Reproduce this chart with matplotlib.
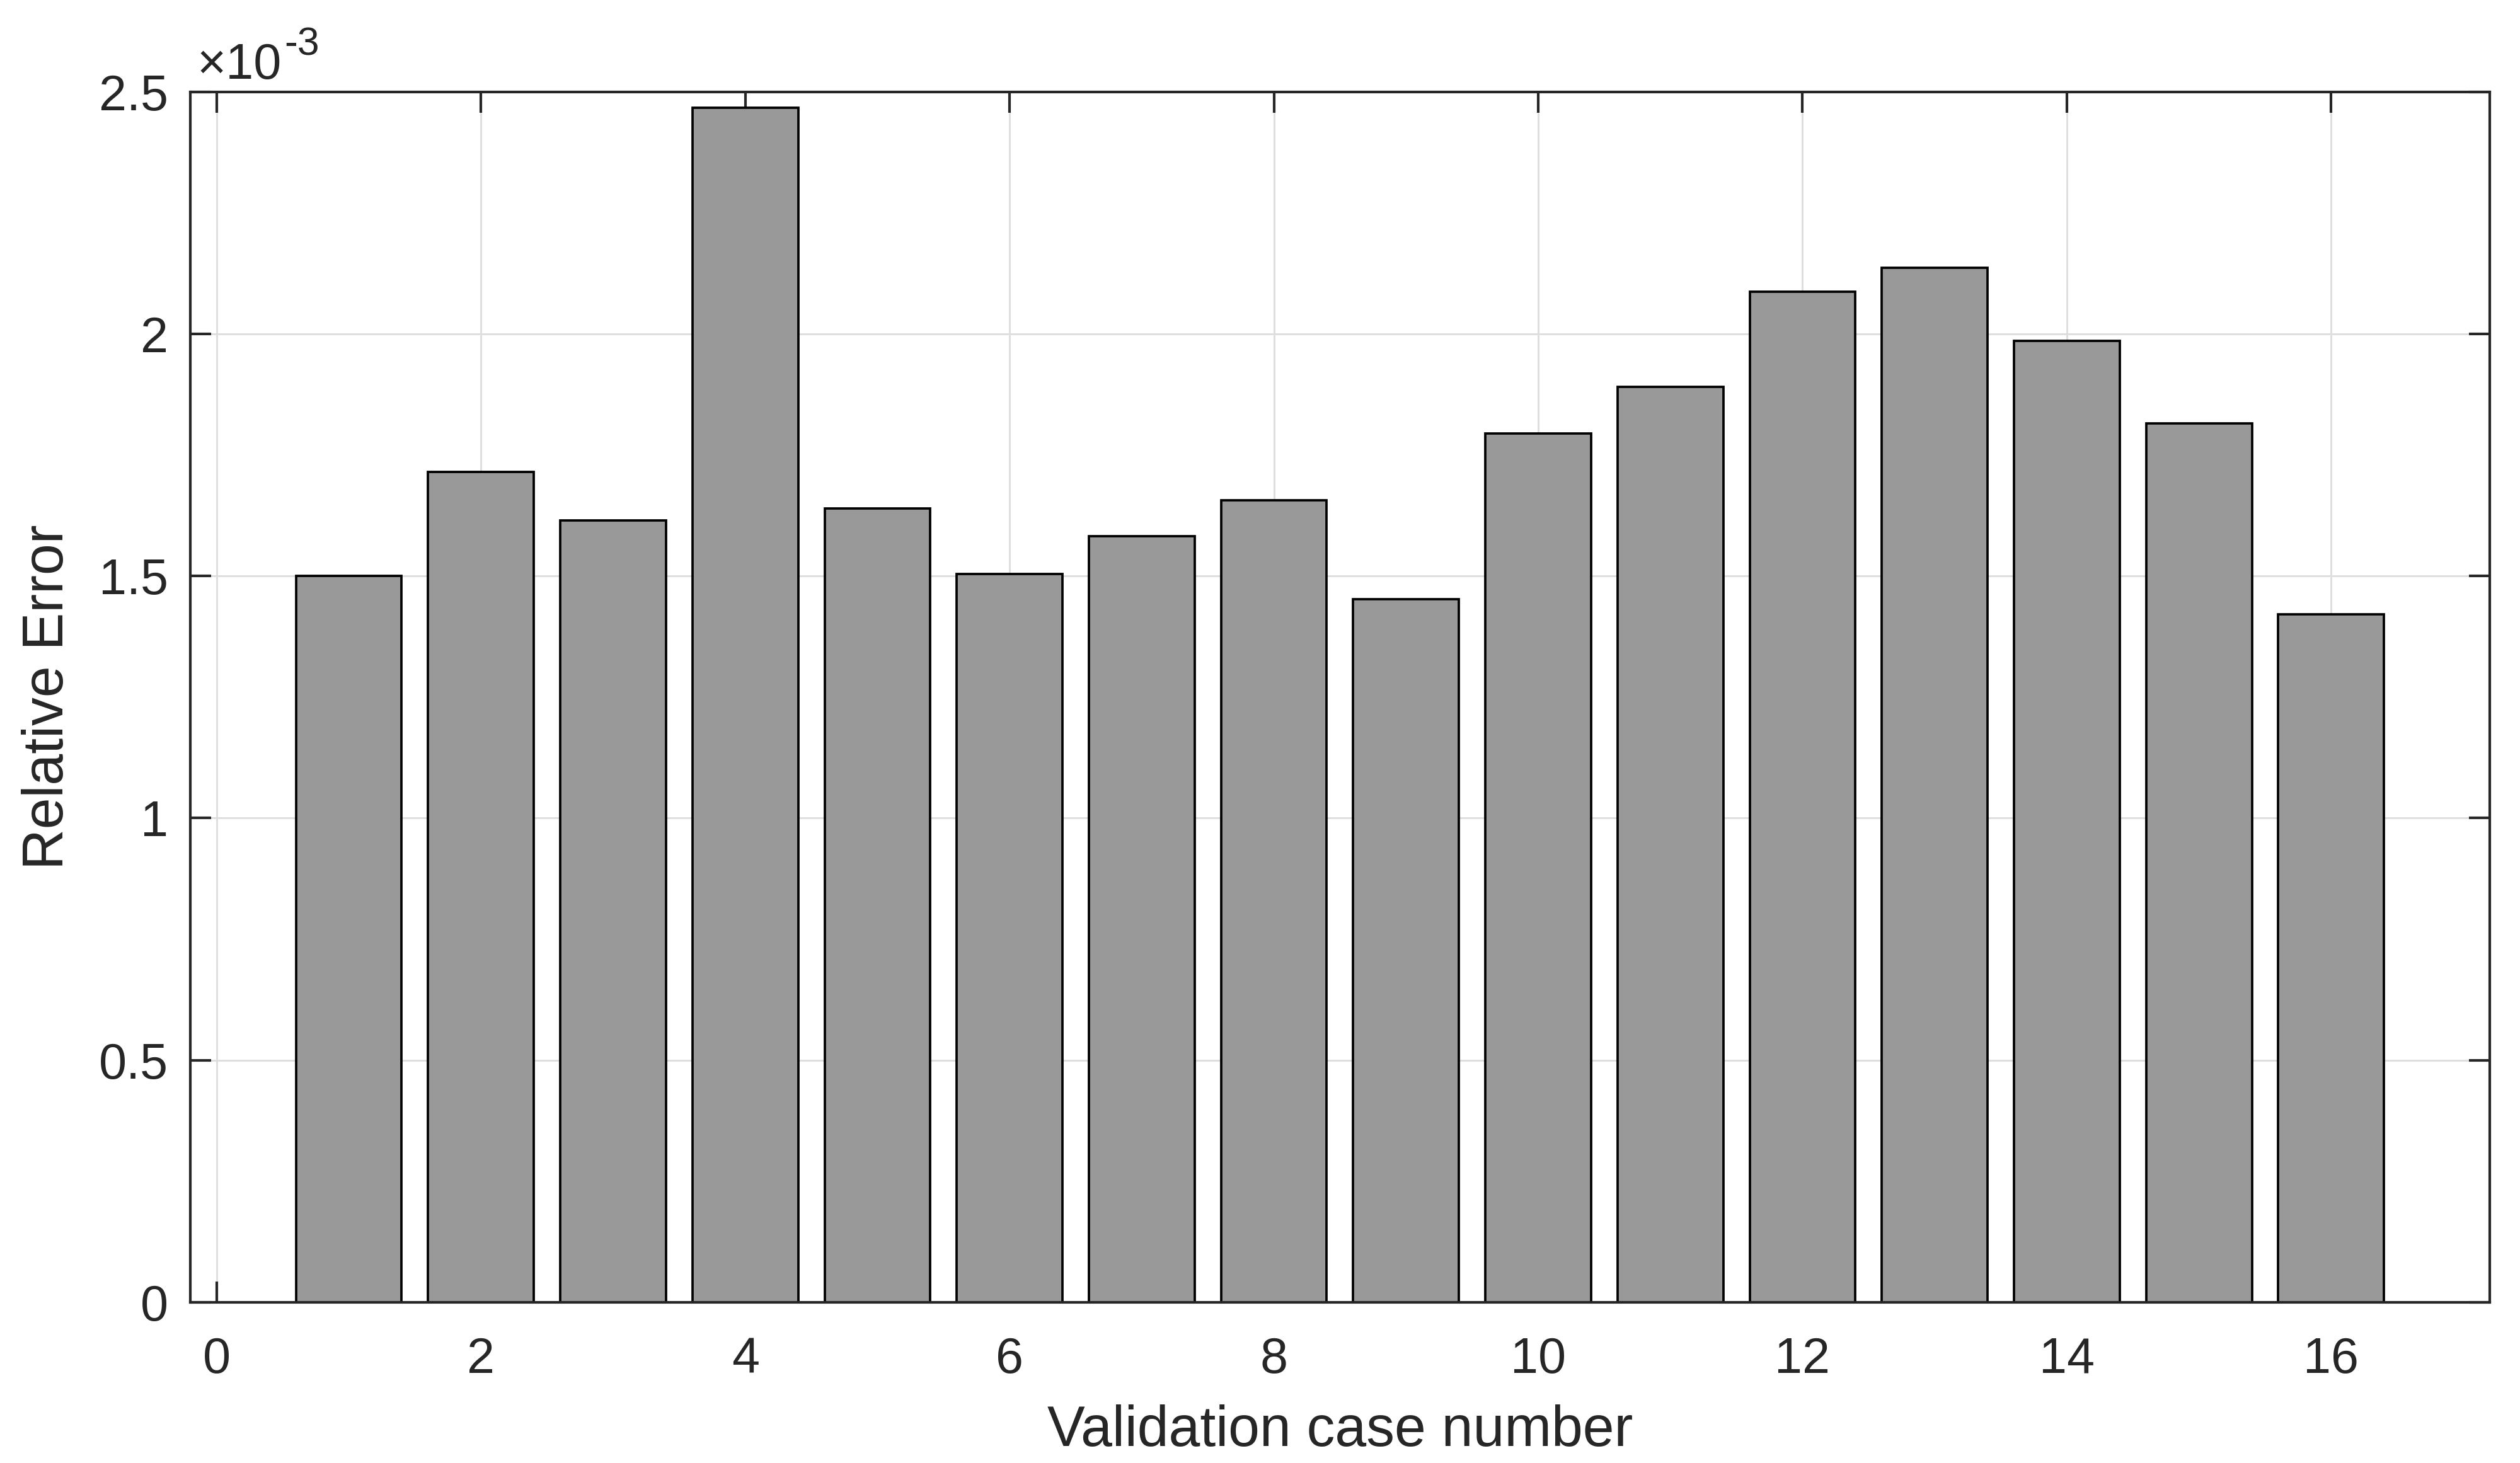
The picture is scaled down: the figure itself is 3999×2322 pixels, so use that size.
import numpy as np
import matplotlib
matplotlib.use('Agg')
import matplotlib.pyplot as plt
from matplotlib.ticker import FuncFormatter

plt.rcParams['font.family'] = ['Liberation Sans', 'DejaVu Sans']

# validation cases and their relative errors
cases = np.arange(1, 17)
rel_err = np.array([1.500, 1.715, 1.615, 2.468, 1.640, 1.505, 1.582, 1.657,
                    1.452, 1.795, 1.891, 2.088, 2.137, 1.986, 1.816, 1.421]) * 1e-3

xticks = [0, 2, 4, 6, 8, 10, 12, 14, 16]
yticks = [0, 0.5e-3, 1.0e-3, 1.5e-3, 2.0e-3, 2.5e-3]

axc = '#262626'
fig = plt.figure(figsize=(3999/300, 2322/300), dpi=300)
ax = fig.add_axes([0.0755, 0.110, 0.9125, 0.827])

ax.bar(cases, rel_err, width=0.8, color='#999999', edgecolor='black', linewidth=0.9, zorder=3)

ax.set_xlim(-0.2, 17.2)
ax.set_ylim(0, 2.5e-3)
ax.set_xticks(xticks)
ax.set_yticks(yticks)
ax.yaxis.set_major_formatter(FuncFormatter(lambda v, p: '%g' % round(v*1e3, 3)))

ax.grid(True, color='#dedede', linewidth=0.7, zorder=0)
ax.set_axisbelow(True)
for s in ax.spines.values():
    s.set_color(axc)
    s.set_linewidth(1.0)
    s.set_zorder(5)
ax.tick_params(direction='in', length=8, width=1.0, color=axc, labelcolor=axc,
               labelsize=19, top=True, right=True)
ax.tick_params(axis='x', pad=13)
ax.tick_params(axis='y', pad=8.5)

ax.set_xlabel('Validation case number', fontsize=21.5, color=axc, labelpad=8)
ax.set_ylabel('Relative Error', fontsize=21.5, color=axc, labelpad=9)

# exponent label like matlab's
base = ax.text(0.003, 1.011, '\u00d710', transform=ax.transAxes,
               fontsize=19, color=axc, ha='left', va='baseline')
ax.annotate('-3', xy=(1.0, 0.55), xycoords=base, xytext=(1, 0), textcoords='offset points',
            fontsize=15, color=axc, ha='left', va='bottom')

fig.savefig('out.png', dpi=300)
